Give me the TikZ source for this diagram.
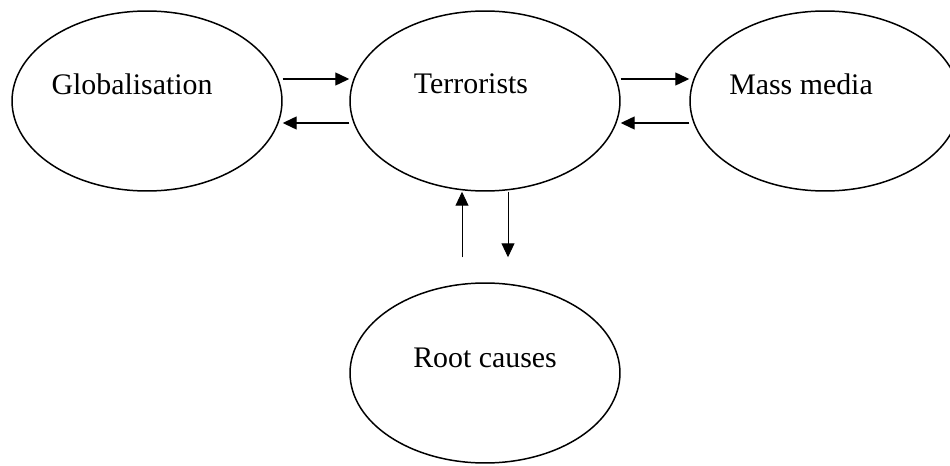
\documentclass[tikz,border=0pt]{standalone}
\usepackage{fontspec}
\setmainfont{Liberation Serif}
\usetikzlibrary{shapes.geometric, arrows.meta, positioning, calc}

\begin{document}
\begin{tikzpicture}
  [
    x=0.02cm, y=-0.02cm,
    Oval/.style={ellipse, draw=black, line width=0.85pt, minimum width=5.4cm, minimum height=3.6cm, inner sep=0pt},
    Word/.style={font=\fontsize{17}{20}\selectfont, inner sep=0pt},
    Link/.style={-{Triangle[length=0.28cm, width=0.26cm]}, draw, line width=0.75pt},
    Thin/.style={-{Triangle[length=0.28cm, width=0.26cm]}, draw, line width=0.55pt}
  ]
  \useasboundingbox (0,0) rectangle (950,466);

  % Nodes
  \node[Oval] (glob) at (147, 101) {};
  \node[Oval] (terr) at (485, 101) {};
  \node[Oval] (mass) at (825, 101) {};
  \node[Oval] (root) at (485, 373) {};

  \node[Word] (globtext) at ($(glob)+(-15,-17)$) {Globalisation};
  \node[Word] (terrtext) at ($(terr)+(-14,-17)$) {Terrorists};
  \node[Word] (masstext) at ($(mass)+(-24,-17)$) {Mass media};
  \node[Word] (roottext) at ($(root)+(0,-15)$) {Root causes};

  \coordinate (risefoot) at ($(root.north)+(-23,-25)$);
  \coordinate (dropfoot) at ($(root.north)+(23,-25)$);

  % Lines
  \path [Link] ($(glob.east)+(0,-22)$) -- ($(terr.west)+(0,-22)$);
  \path [Link] ($(terr.west)+(0,22)$) -- ($(glob.east)+(0,22)$);
  \path [Link] ($(terr.east)+(0,-22)$) -- ($(mass.west)+(0,-22)$);
  \path [Link] ($(mass.west)+(0,22)$) -- ($(terr.east)+(0,22)$);
  \path [Thin] (risefoot) -- (risefoot |- terr.south);
  \path [Thin] (dropfoot |- terr.south) -- (dropfoot);

\end{tikzpicture}
\end{document}
